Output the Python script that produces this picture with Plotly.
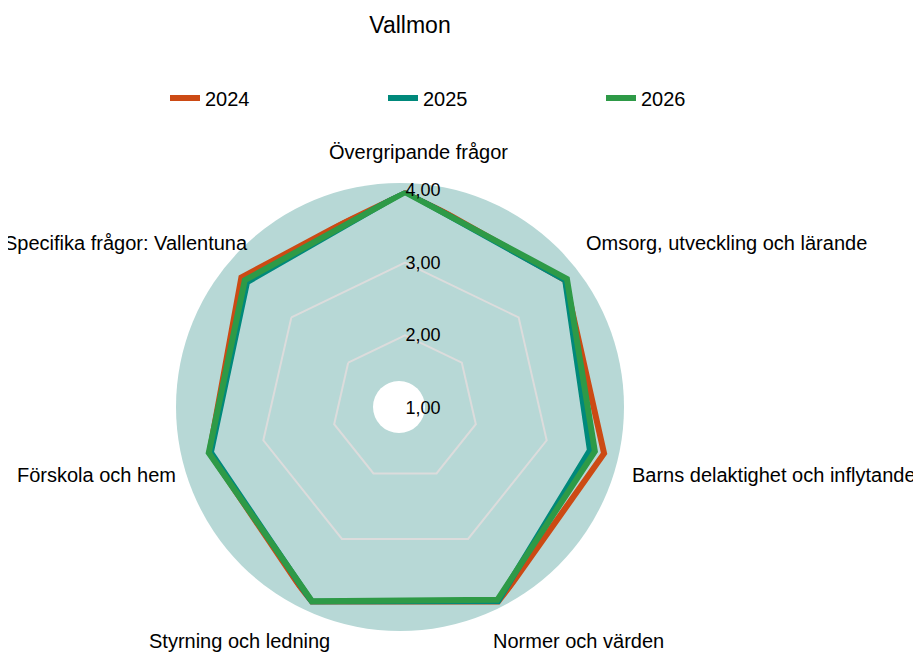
import plotly.graph_objects as go

W, H = 921, 655

categories = [
    "Övergripande frågor",
    "Omsorg, utveckling och lärande",
    "Barns delaktighet och inflytande",
    "Normer och värden",
    "Styrning och ledning",
    "Förskola och hem",
    "Specifika frågor: Vallentuna",
]

years = ["2024", "2025", "2026"]
v2024 = [4.00, 3.82, 3.81, 3.97, 3.98, 3.76, 3.88]
v2025 = [3.98, 3.82, 3.61, 3.95, 3.96, 3.74, 3.78]
v2026 = [3.97, 3.85, 3.68, 3.93, 3.95, 3.77, 3.82]
colors = ["#CC4A14", "#00897B", "#2E9A47"]

tick_vals = [1, 2, 3, 4]
tick_text = ["1,00", "2,00", "3,00", "4,00"]

FONT = "Liberation Sans, Arial, sans-serif"

fig = go.Figure()
for name, vals, col in zip(years, [v2024, v2025, v2026], colors):
    fig.add_trace(go.Scatterpolar(
        r=vals + vals[:1],
        theta=categories + categories[:1],
        mode="lines",
        name=name,
        line=dict(color=col, width=6),
    ))

# pixel helpers (origin top-left of the plot div)
def px(x):
    return x / W

def py(y):
    return 1 - y / H

cx, cy, R = 397, 400, 218

# circular background and white centre
shapes = [
    dict(type="circle", xref="paper", yref="paper", layer="below",
         x0=px(392 - 224), x1=px(392 + 224), y0=py(399 + 224), y1=py(399 - 224),
         fillcolor="#B7D8D6", line=dict(width=0)),
    dict(type="circle", xref="paper", yref="paper", layer="below",
         x0=px(391 - 26), x1=px(391 + 26), y0=py(399 + 26), y1=py(399 - 26),
         fillcolor="white", line=dict(width=0)),
]

# category labels placed around the chart
label_pos = [
    (410, 144, "center"),
    (576, 235, "left"),
    (622, 467, "left"),
    (570, 633, "center"),
    (231, 633, "center"),
    (170, 467, "right"),
    (242, 235, "right"),
]
annotations = [
    dict(text=t, x=px(x), y=py(y), xref="paper", yref="paper", xanchor=a,
         yanchor="middle", showarrow=False, font=dict(size=20))
    for t, (x, y, a) in zip(categories, label_pos)
]

fig.update_layout(
    width=W, height=H,
    margin=dict(l=0, r=0, t=0, b=0),
    paper_bgcolor="white",
    font=dict(family=FONT, color="black", size=20),
    title=dict(text="Vallmon", x=px(402), y=py(17), xanchor="center", yanchor="middle",
               font=dict(size=23, family=FONT)),
    shapes=shapes,
    annotations=annotations,
    legend=dict(orientation="h", x=px(157), y=py(90), xanchor="left", yanchor="middle",
                entrywidth=173, entrywidthmode="pixels", font=dict(size=20),
                bgcolor="rgba(0,0,0,0)"),
    polar=dict(
        domain=dict(x=[px(cx - R), px(cx + R)], y=[py(cy + R), py(cy - R)]),
        bgcolor="rgba(0,0,0,0)",
        gridshape="linear",
        radialaxis=dict(range=[1, 4], tickvals=tick_vals, ticktext=tick_text,
                        angle=90, tickangle=90, showline=False, ticks="",
                        gridcolor="#DCDCDC", gridwidth=2,
                        tickfont=dict(size=18)),
        angularaxis=dict(rotation=90, direction="clockwise", showgrid=False,
                         showline=False, ticks="", showticklabels=False),
    ),
)

fig.write_html("out.html")
